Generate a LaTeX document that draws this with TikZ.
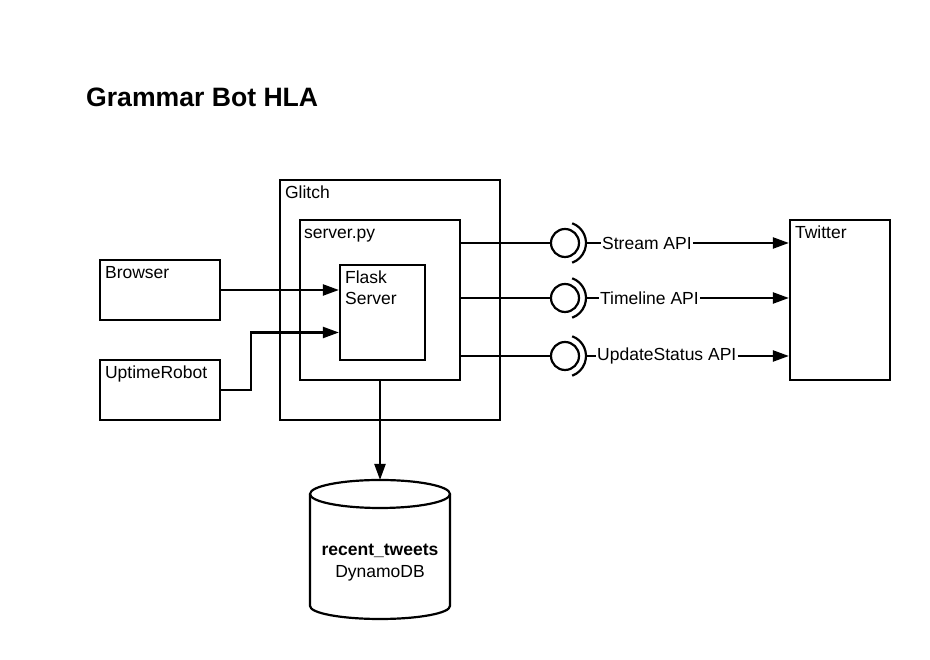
\documentclass[tikz,border=0pt]{standalone}
\usepackage{fontspec}
\setmainfont{Liberation Sans}
\usetikzlibrary{arrows.meta}
\tikzset{
  box/.style={draw, line width=2.2pt, inner sep=0pt},
  tag/.style={anchor=base west, inner sep=0pt, font=\fontsize{17.5}{21}\selectfont},
  api/.style={anchor=west, inner sep=1pt, font=\fontsize{17.5}{21}\selectfont},
  wire/.style={line width=2.2pt},
  arr/.style={line width=2.2pt, -{Triangle[length=16pt,width=11pt]}},
  iface/.style={draw, circle, line width=2.2pt, minimum size=28, inner sep=0pt},
}
\begin{document}
\begin{tikzpicture}[x=1pt,y=1pt]
\useasboundingbox (0,0) rectangle (930,660);
\node[anchor=base west, inner sep=0pt, font=\fontsize{26.6}{30}\selectfont\bfseries] (title) at (86,553) {Grammar Bot HLA};
% boxes
\node[box, minimum width=220, minimum height=240] (glitch) at (390,360) {};
\node[tag] (glitchtag) at ([xshift=6,yshift=-20]glitch.north west) {Glitch};
\node[box, minimum width=160, minimum height=160] (serverpy) at (380,360) {};
\node[tag] (serverpytag) at ([xshift=5,yshift=-20]serverpy.north west) {server.py};
\node[box, minimum width=85, minimum height=95] (flask) at (382.5,347.5) {};
\node[anchor=north west, inner sep=0pt, align=left, font=\fontsize{17.5}{21}\selectfont] (flasktag) at ([xshift=6,yshift=-7]flask.north west) {Flask\\Server};
\node[box, minimum width=120, minimum height=60] (browser) at (160,370) {};
\node[tag] (browsertag) at ([xshift=6,yshift=-20]browser.north west) {Browser};
\node[box, minimum width=120, minimum height=60] (uptime) at (160,270) {};
\node[tag] (uptimetag) at ([xshift=6,yshift=-20]uptime.north west) {UptimeRobot};
\node[box, minimum width=100, minimum height=160] (twitter) at (840,360) {};
\node[tag] (twittertag) at ([xshift=6,yshift=-20]twitter.north west) {Twitter};
% clients
\draw[arr] (browser.east) -- (browser.east -| flask.west);
\draw[arr] (uptime.east) -- ++(30,0) |- ([yshift=-20]flask.west);
% interfaces
\node[iface] (ifstream) at (565,417) {};
\draw[wire] (serverpy.east |- ifstream) -- (ifstream);
\draw[wire] ([shift={(70:21)}]ifstream.center) arc[start angle=70, end angle=-70, radius=21];
\node[api] (stream) at (601,417) {Stream API};
\draw[wire] ([xshift=21]ifstream.center) -- (stream);
\draw[arr] (stream) -- (stream -| twitter.west);
\node[iface] (iftimeline) at (565,362) {};
\draw[wire] (serverpy.east |- iftimeline) -- (iftimeline);
\draw[wire] ([shift={(70:21)}]iftimeline.center) arc[start angle=70, end angle=-70, radius=21];
\node[api] (timeline) at (599,362) {Timeline API};
\draw[wire] ([xshift=21]iftimeline.center) -- (timeline);
\draw[arr] (timeline) -- (timeline -| twitter.west);
\node[iface] (ifupdate) at (565,304) {};
\draw[wire] (serverpy.east |- ifupdate) -- (ifupdate);
\draw[wire] ([shift={(70:21)}]ifupdate.center) arc[start angle=70, end angle=-70, radius=21];
\node[api] (update) at (596,304) {UpdateStatus API};
\draw[wire] ([xshift=21]ifupdate.center) -- (update);
\draw[arr] (update) -- (update -| twitter.west);
% database
\coordinate (dbtop) at (380,180);
\draw[arr] (serverpy.south) -- (dbtop);
\draw[wire] (380,166) ellipse[x radius=70, y radius=14];
\draw[wire] (310,166) -- (310,54) arc[start angle=180, end angle=360, x radius=70, y radius=13] -- (450,166);
\node[align=center, inner sep=0pt, font=\fontsize{17.5}{22}\selectfont] (db) at (380,97) {\textbf{recent\_tweets}\\DynamoDB};
\end{tikzpicture}
\end{document}
